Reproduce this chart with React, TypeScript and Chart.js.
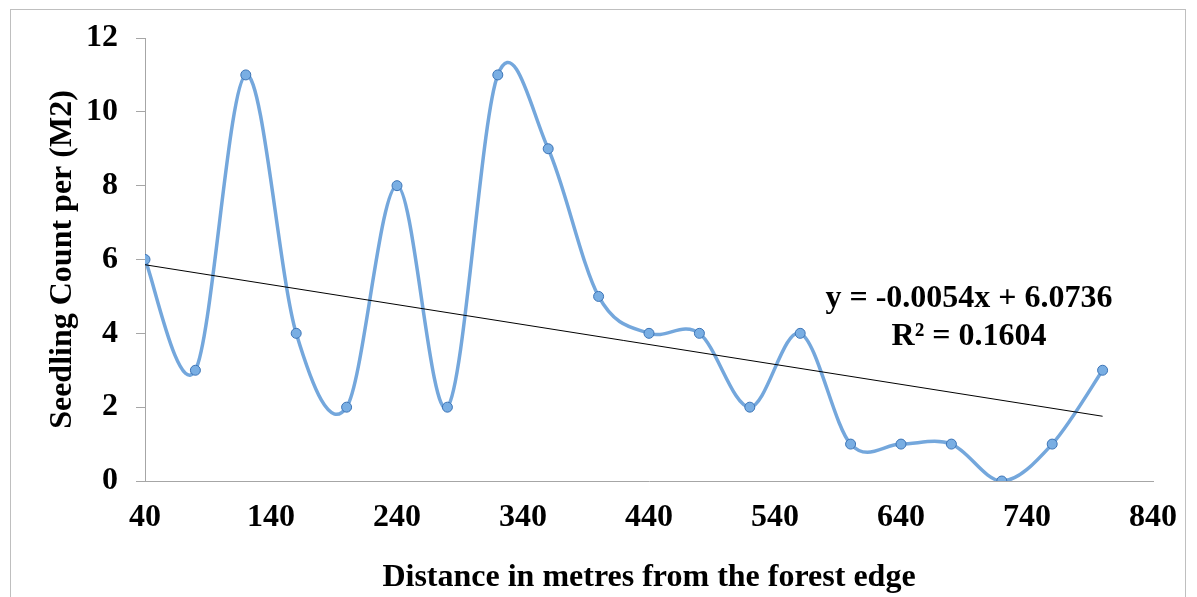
import React, { useEffect, useRef } from "react";
import { Chart, registerables } from "chart.js";

Chart.register(...registerables);

const distances = [40, 80, 120, 160, 200, 240, 280, 320, 360, 400, 440, 480, 520, 560, 600, 640, 680, 720, 760, 800];
const seedlingCounts = [6, 3, 11, 4, 2, 8, 2, 11, 9, 5, 4, 4, 2, 4, 1, 1, 1, 0, 1, 3];
const trendX = [40, 800];
const trendY = [5.8576, 1.7536];
const equationLines = ["y = -0.0054x + 6.0736", "R² = 0.1604"];
const xTitle = "Distance in metres from the forest edge";
const yTitle = "Seedling Count per (M2)";

const FONT = "'Liberation Serif', 'Times New Roman', serif";

export default function App() {
  const ref = useRef<HTMLCanvasElement>(null);

  useEffect(() => {
    const canvas = ref.current;
    if (!canvas) return;

    // Excel-style smoothing (uniform Catmull-Rom) for the data line
    const smoothPlugin = {
      id: "excelSmooth",
      beforeDatasetDraw(chart: any, args: any) {
        if (args.index !== 0) return;
        const meta = args.meta;
        const line = meta.dataset;
        if (!line) return;
        line.updateControlPoints(chart.chartArea, meta.indexAxis || "x");
        const pts = meta.data;
        const n = pts.length;
        for (let i = 0; i < n; i++) {
          const p = pts[i];
          const prev = pts[Math.max(0, i - 1)];
          const next = pts[Math.min(n - 1, i + 1)];
          const dx = (next.x - prev.x) / 6;
          const dy = (next.y - prev.y) / 6;
          p.cp1x = p.x - dx;
          p.cp1y = p.y - dy;
          p.cp2x = p.x + dx;
          p.cp2y = p.y + dy;
        }
      },
    };

    const equationPlugin = {
      id: "equation",
      afterDatasetsDraw(chart: any) {
        const { ctx, scales } = chart;
        const cx = scales.x.getPixelForValue(694);
        const cy = scales.y.getPixelForValue(4.95);
        ctx.save();
        ctx.font = `bold 32px ${FONT}`;
        ctx.fillStyle = "#000";
        ctx.textAlign = "center";
        ctx.textBaseline = "middle";
        ctx.fillText(equationLines[0], cx, cy);
        ctx.fillText(equationLines[1], cx, cy + 38);
        ctx.restore();
      },
    };

    const chart = new Chart(canvas, {
      type: "line",
      data: {
        datasets: [
          {
            data: distances.map((x, i) => ({ x, y: seedlingCounts[i] })),
            borderColor: "#74a7dc",
            borderWidth: 3.5,
            tension: 0.4,
            capBezierPoints: false,
            pointRadius: 5,
            pointBackgroundColor: "#79aee3",
            pointBorderColor: "#3c74b6",
            pointBorderWidth: 1,
            fill: false,
            order: 1,
          },
          {
            data: trendX.map((x, i) => ({ x, y: trendY[i] })),
            borderColor: "#000",
            borderWidth: 1,
            pointRadius: 0,
            tension: 0,
            fill: false,
            order: 0,
          },
        ],
      },
      options: {
        animation: false,
        responsive: false,
        maintainAspectRatio: false,
        layout: { padding: { left: 0, right: 44, top: 38, bottom: 0 } },
        plugins: { legend: { display: false }, tooltip: { enabled: false } },
        scales: {
          x: {
            type: "linear",
            min: 40,
            max: 840,
            afterFit(scale: any) {
              scale.height = 116;
            },
            ticks: {
              stepSize: 100,
              color: "#000",
              font: { family: FONT, size: 32, weight: "bold" },
              padding: 18,
            },
            grid: { display: false, drawTicks: false },
            border: { display: true, color: "#a6a6a6", width: 1 },
            title: {
              display: true,
              text: xTitle,
              color: "#000",
              font: { family: FONT, size: 32, weight: "bold" },
              padding: { top: 0, bottom: 0 },
            },
          },
          y: {
            min: 0,
            max: 12,
            afterFit(scale: any) {
              scale.width = 145;
            },
            ticks: {
              stepSize: 2,
              color: "#000",
              font: { family: FONT, size: 32, weight: "bold" },
              padding: 18,
            },
            grid: { drawOnChartArea: false, drawTicks: true, tickLength: 9, color: "#a6a6a6" },
            border: { display: true, color: "#a6a6a6", width: 1 },
            title: {
              display: true,
              text: yTitle,
              color: "#000",
              font: { family: FONT, size: 32, weight: "bold" },
              padding: { top: 44, bottom: 44 },
            },
          },
        },
      },
      plugins: [smoothPlugin, equationPlugin],
    });

    return () => chart.destroy();
  }, []);

  return (
    <div style={{ position: "absolute", left: 0, top: 0, width: 1197, height: 597, background: "#fff", overflow: "hidden" }}>
      <div
        style={{
          position: "absolute",
          left: 10,
          top: 9,
          width: 1176,
          height: 620,
          border: "1px solid #bfbfbf",
          boxSizing: "border-box",
        }}
      />
      <canvas ref={ref} width={1197} height={597} style={{ position: "absolute", left: 0, top: 0 }} />
    </div>
  );
}
